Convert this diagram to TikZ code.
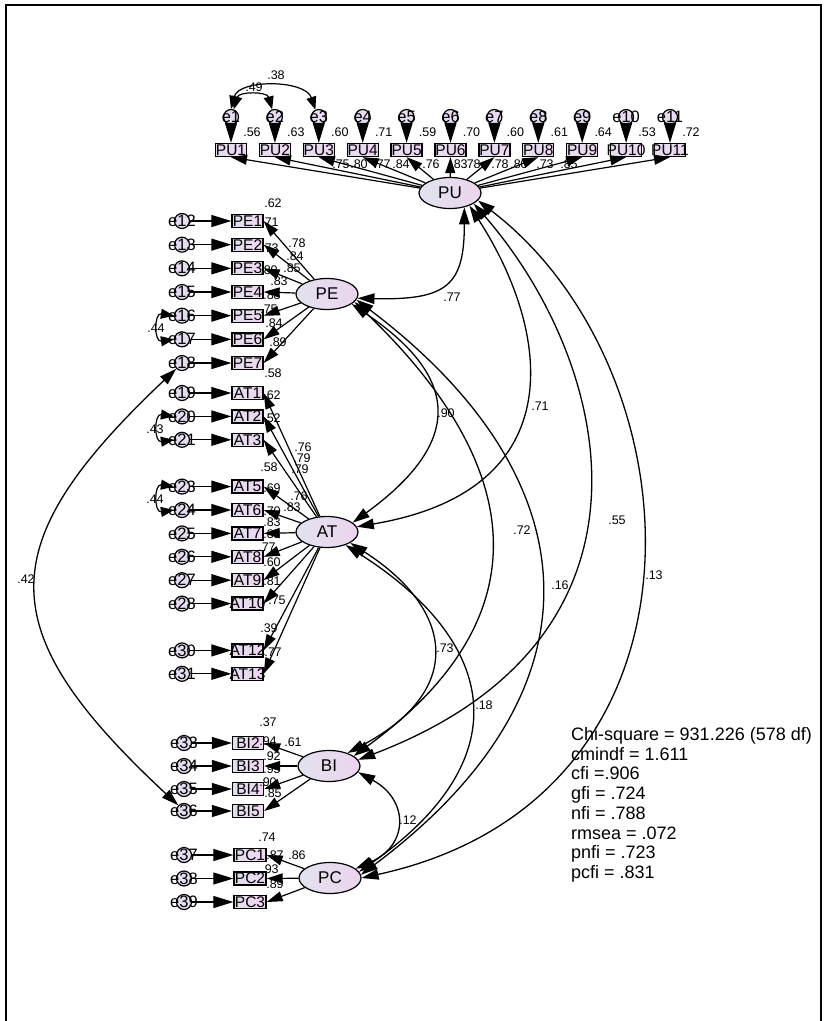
\documentclass[tikz,border=0pt]{standalone}
\usepackage{fontspec}
\setmainfont{Liberation Sans}
\usetikzlibrary{arrows.meta,shapes.geometric}
\definecolor{lavL}{HTML}{E2E2EE}
\definecolor{lavR}{HTML}{ECD4EE}
\definecolor{boxL}{HTML}{E4DDEE}
\definecolor{boxR}{HTML}{EED8F0}
\definecolor{errF}{HTML}{E6DCF0}
\begin{document}
\begin{tikzpicture}[x=1pt,y=-1pt,
  lat/.style={ellipse, draw, line width=1.2pt, minimum width=62pt, minimum height=31pt, inner sep=0pt, left color=lavL, right color=lavR, font=\fontsize{17}{19}\selectfont},
  ind/.style={rectangle, draw, line width=1.3pt, minimum width=31pt, minimum height=13pt, inner sep=0pt, left color=boxL, right color=boxR},
  itxt/.style={font=\fontsize{15.5}{16}\selectfont, inner sep=0pt},
  errc/.style={circle, draw, line width=1.2pt, minimum size=15pt, inner sep=0pt, fill=errF},
  etxt/.style={font=\fontsize{16.5}{17}\selectfont, inner sep=0pt},
  num/.style={font=\fontsize{12.5}{13}\selectfont, inner sep=0pt},
  stat/.style={font=\fontsize{18}{20}\selectfont, inner sep=0pt, anchor=base west},
  err/.style={-{Triangle[length=20pt,width=12pt]}, line width=1.2pt},
  load/.style={-{Triangle[length=16pt,width=10pt]}, line width=1.2pt},
  cov/.style={{Triangle[length=17pt,width=10.5pt]}-{Triangle[length=17pt,width=10.5pt]}, line width=1.3pt},
  ecov/.style={{Triangle[length=13pt,width=10pt]}-{Triangle[length=13pt,width=10pt]}, line width=1.2pt}
]
\useasboundingbox (0,0) rectangle (824,1021);
\fill[white] (0,0) rectangle (824,1021);
\draw[line width=2pt] (6,1030) -- (6,5) -- (820.5,5) -- (820.5,1030);

% latent variables
\node[lat] (PU) at (450,193) {PU};
\node[lat] (PE) at (327,294) {PE};
\node[lat] (AT) at (327,532) {AT};
\node[lat] (BI) at (329,766) {BI};
\node[lat] (PC) at (330,878) {PC};

% PU indicators
\foreach \k in {1,...,11}{
  \pgfmathsetmacro\xx{231+43.9*(\k-1)}
  \node[ind, label={[itxt]center:PU\k}] (PU\k) at (\xx,150) {};
  \node[errc, label={[etxt]center:e\k}] (e\k) at (\xx,117) {};
  \draw[err] (e\k) -- (PU\k);
  \draw[load] (PU) -- (PU\k.south);
}
\foreach \k/\v in {1/.56,2/.63,3/.60,4/.71,5/.59,6/.70,7/.60,8/.61,9/.64,10/.53,11/.72}{
  \pgfmathsetmacro\xx{252+43.9*(\k-1)}
  \node[num] (rPU\k) at (\xx,132) {\v};
}

% PE indicators
\foreach \i/\en in {1/12,2/13,3/14,4/15,5/16,6/17,7/18}{
  \pgfmathsetmacro\yy{221+23.67*(\i-1)}
  \node[ind, label={[itxt]center:PE\i}] (PE\i) at (247.5,\yy) {};
  \node[errc, label={[etxt]center:e\en}] (e\en) at (182,\yy) {};
  \draw[err] (e\en) -- (PE\i);
  \draw[load] (PE) -- (PE\i.east);
}

% AT indicators
\foreach \i/\en/\yy in {1/19/393,2/20/416.4,3/21/439.8,5/23/486.6,6/24/510,7/25/533.4,8/26/556.8,9/27/580.2,10/28/603.6,12/30/650.4,13/31/673.8}{
  \node[ind, label={[itxt]center:AT\i}] (AT\i) at (247.5,\yy) {};
  \node[errc, label={[etxt]center:e\en}] (e\en) at (182,\yy) {};
  \draw[err] (e\en) -- (AT\i);
  \draw[load] (AT) -- (AT\i.east);
}

% BI indicators
\foreach \i/\en/\yy in {2/33/743,3/34/766,4/35/789,5/36/811}{
  \node[ind, label={[itxt]center:BI\i}] (BI\i) at (248,\yy) {};
  \node[errc, label={[etxt]center:e\en}] (e\en) at (184,\yy) {};
  \draw[err] (e\en) -- (BI\i);
  \draw[load] (BI) -- (BI\i.east);
}

% PC indicators
\foreach \i/\en/\yy in {1/37/855,2/38/878.5,3/39/902}{
  \node[ind, minimum width=32pt, label={[itxt]center:PC\i}] (PC\i) at (250,\yy) {};
  \node[errc, label={[etxt]center:e\en}] (e\en) at (184,\yy) {};
  \draw[err] (e\en) -- (PC\i);
  \draw[load] (PC) -- (PC\i.east);
}

% error covariances
\draw[ecov] (e1.70) .. controls +(5,-18) and +(-5,-18) .. (e2.110);
\draw[ecov] (e1.north) .. controls +(8,-30) and +(-10,-30) .. (e3.115);
\draw[ecov] (e16.west) .. controls +(-20,-3) and +(-20,3) .. (e17.west);
\draw[ecov] (e20.west) .. controls +(-20,-3) and +(-20,3) .. (e21.west);
\draw[ecov] (e23.west) .. controls +(-20,-3) and +(-20,3) .. (e24.west);
\draw[cov] (e18.225) .. controls (-10,545) and (-10,630) .. (e36.135);

% latent covariances
\draw[cov] (PE.-8) .. controls +(90,2) and +(0,78) .. (PU.-45);
\draw[cov] (PE.-22) .. controls (455,374) and (469,438) .. (AT.20);
\draw[cov] (PU.-33) .. controls (550,330) and (575,490) .. (AT.10);
\draw[cov] (PE.-16) .. controls (530,470) and (541,620) .. (BI.22);
\draw[cov] (PE.-11) .. controls (595,480) and (607,691) .. (PC.6);
\draw[cov] (PU.-24) .. controls (610,360) and (681,637) .. (BI.12);
\draw[cov] (PU.-15) .. controls (700,370) and (728,798) .. (PC.0);
\draw[cov] (AT.-25) .. controls (455,610) and (465,691) .. (BI.35);
\draw[cov] (AT.-35) .. controls (495,640) and (523,756) .. (PC.12);
\draw[cov] (BI.-12) .. controls (409,800) and (409,845) .. (PC.20);

% numeric labels
\foreach \x/\y/\lab [count=\n] in {
  341/164/.75, 359/164/.80, 382/164/.77, 401/164/.84, 431/164/.76, 459/164/.83,
  472/164/.78, 500/164/.78, 519/164/.80, 545/164/.73, 569/164/.85,
  254/87/.49, 276/75/.38,
  452/297/.77, 446/413/.90, 540/406/.71, 522/530/.72, 617/520/.55, 560/585/.16,
  654/575/.13, 445/648/.73, 484/705/.18, 408/820/.12, 26/579/.42,
  156/328/.44, 155/429/.43, 155/499/.44,
  273/203/.62, 270/222/.71, 297/243/.78, 295/256/.84, 270/248/.73, 292/268/.85,
  269/270/.80, 279/281/.83, 272/295/.88, 269/309/.75, 274/323/.84, 278/342/.89,
  273/373/.58,
  272/395/.62, 272/418/.52, 303/447/.76, 302/458/.79, 300/469/.79, 269/467/.58,
  272/488/.69, 299/496/.76, 292/507/.83, 272/511/.70, 272/522/.83, 272/534/.88,
  267/547/.77, 272/562/.60, 272/581/.81, 277/600/.75, 269/628/.39, 273/652/.77,
  268/722/.37, 293/742/.61, 268/741/.94, 272/756/.92, 272/769/.95, 268/782/.90,
  273/793/.85,
  267/837/.74, 297/855/.86, 275/855/.87, 270/869/.93, 275/884/.89}{
  \node[num] (n\n) at (\x,\y) {\lab};
}

% fit statistics
\foreach \lab [count=\i] in {Chi-square = 931.226 (578 df), cmindf = 1.611, cfi =.906, gfi = .724, nfi = .788, rmsea = .072, pnfi = .723, pcfi = .831}{
  \node[stat] (s\i) at (571,{740.5+19.7*(\i-1)}) {\lab};
}
\end{tikzpicture}
\end{document}
